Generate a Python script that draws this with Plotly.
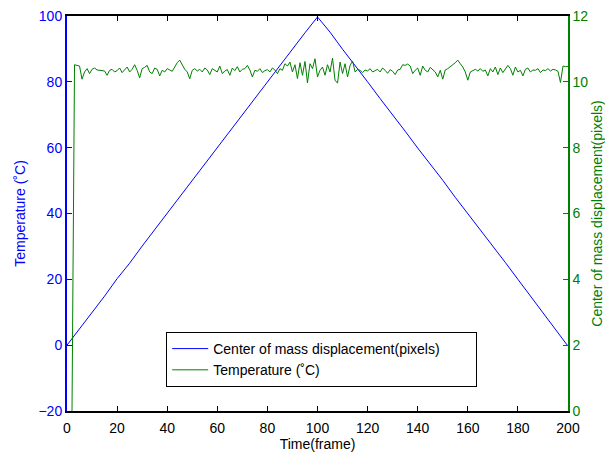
import plotly.graph_objects as go

# Center of mass displacement (left axis, blue) sampled every 5 frames
disp_frames = list(range(0, 201, 5))
disp_values = [0.0, 4.9, 10.1, 14.9, 20.2, 24.9, 30.1, 35.1, 39.9, 45.1,
               50.0, 54.9, 60.1, 64.9, 70.1, 75.1, 79.9, 85.0, 90.1, 94.9,
               99.7, 95.1, 89.9, 85.1, 80.0, 74.9, 70.1, 65.0, 59.9, 55.1,
               50.1, 44.9, 40.0, 35.1, 29.9, 25.1, 20.0, 14.9, 10.1, 5.0, -0.3]

# Temperature (right axis, green), frames 2..200
temp_frames = list(range(2, 201))
temp_values = [0.0,
    10.52, 10.50, 10.48, 10.08, 10.30, 10.40, 10.25, 10.38, 10.42, 10.36,
    10.35, 10.34, 10.33, 10.20, 10.35, 10.38, 10.30, 10.34, 10.42, 10.28,
    10.36, 10.45, 10.30, 10.38, 10.52, 10.35, 10.12, 10.40, 10.44, 10.50,
    10.30, 10.25, 10.42, 10.38, 10.18, 10.35, 10.30, 10.40, 10.36, 10.32,
    10.45, 10.58, 10.66, 10.50, 10.38, 10.30, 10.09, 10.35, 10.40, 10.33,
    10.38, 10.30, 10.42, 10.36, 10.22, 10.40, 10.35, 10.30, 10.48, 10.25,
    10.33, 10.37, 10.20, 10.42, 10.34, 10.46, 10.30, 10.38, 10.40, 10.50,
    10.36, 10.15, 10.35, 10.32, 10.40, 10.28, 10.34, 10.37, 10.30, 10.42,
    10.36, 10.25, 10.40, 10.35, 10.55, 10.48, 10.60, 10.30, 10.52, 10.10,
    10.58, 10.20, 10.62, 9.97, 10.55, 10.40, 10.70, 10.15, 10.35, 10.45,
    10.20, 10.52, 10.30, 10.72, 10.05, 9.96, 10.60, 10.25, 10.55, 10.15,
    10.50, 10.63, 10.30, 10.38, 10.35, 10.28, 10.36, 10.33, 10.40, 10.30,
    10.34, 10.38, 10.30, 10.42, 10.35, 10.26, 10.37, 10.32, 10.22, 10.36,
    10.38, 10.52, 10.50, 10.54, 10.48, 10.25, 10.35, 10.42, 10.20, 10.48,
    10.35, 10.30, 10.44, 10.38, 10.30, 10.15, 10.35, 10.08, 10.36, 10.40,
    10.45, 10.52, 10.58, 10.66, 10.55, 10.45, 10.30, 10.05, 10.30, 10.35,
    10.38, 10.33, 10.40, 10.32, 10.36, 10.18, 10.40, 10.30, 10.45, 10.22,
    10.42, 10.28, 10.38, 10.50, 10.40, 10.20, 10.45, 10.30, 10.35, 10.18,
    10.38, 10.42, 10.30, 10.36, 10.35, 10.40, 10.28, 10.36, 10.34, 10.40,
    10.33, 10.38, 10.36, 10.32, 9.98, 10.48, 10.46, 10.47]

x_ticks = list(range(0, 201, 20))
y1_ticks = list(range(-20, 101, 20))
y2_ticks = list(range(0, 13, 2))

BLUE = "#0000FF"
GREEN = "#008000"
FONT = "Liberation Sans, Arial, sans-serif"
PAD = "\u00a0" * 8

fig = go.Figure()
fig.add_trace(go.Scatter(x=disp_frames, y=disp_values, mode="lines",
                         line=dict(color=BLUE, width=1),
                         name="Center of mass displacement(pixels)" + PAD, yaxis="y"))
fig.add_trace(go.Scatter(x=temp_frames, y=temp_values, mode="lines",
                         line=dict(color=GREEN, width=1),
                         name="Temperature (\u02daC)", yaxis="y2"))

fig.update_layout(
    width=605, height=452,
    margin=dict(l=67, r=37, t=16, b=41, autoexpand=False),
    paper_bgcolor="white", plot_bgcolor="white",
    font=dict(family=FONT, size=14, color="black"),
    showlegend=True,
    legend=dict(x=0.198, y=0.2, xanchor="left", yanchor="top",
                bgcolor="white", bordercolor="black", borderwidth=1,
                font=dict(family=FONT, size=14, color="black"),
                itemwidth=36, tracegroupgap=0),
    xaxis=dict(range=[0, 200], tickvals=x_ticks, ticks="inside", ticklen=5,
               showline=True, linecolor="black", linewidth=1.5, mirror="ticks",
               showgrid=False, zeroline=False, tickcolor="black",
               ticklabelstandoff=3,
               tickfont=dict(size=14, color="black"),
               title=dict(text="Time(frame)", font=dict(size=14, color="black"), standoff=3)),
    yaxis=dict(range=[-20, 100], tickvals=y1_ticks, ticks="inside", ticklen=5,
               showline=True, linecolor=BLUE, linewidth=2, tickcolor=BLUE,
               showgrid=False, zeroline=False,
               tickfont=dict(size=14, color=BLUE),
               title=dict(text="Temperature (\u02daC)", font=dict(size=14, color=BLUE), standoff=10)),
    yaxis2=dict(range=[0, 12], tickvals=y2_ticks, ticks="inside", ticklen=5,
                overlaying="y", side="right",
                showline=True, linecolor=GREEN, linewidth=1.5, tickcolor=GREEN,
                showgrid=False, zeroline=False,
                tickfont=dict(size=14, color=GREEN),
                title=dict(text="Center of mass displacement(pixels)", font=dict(size=14, color=GREEN), standoff=6)),
)

fig.write_html("out.html")
